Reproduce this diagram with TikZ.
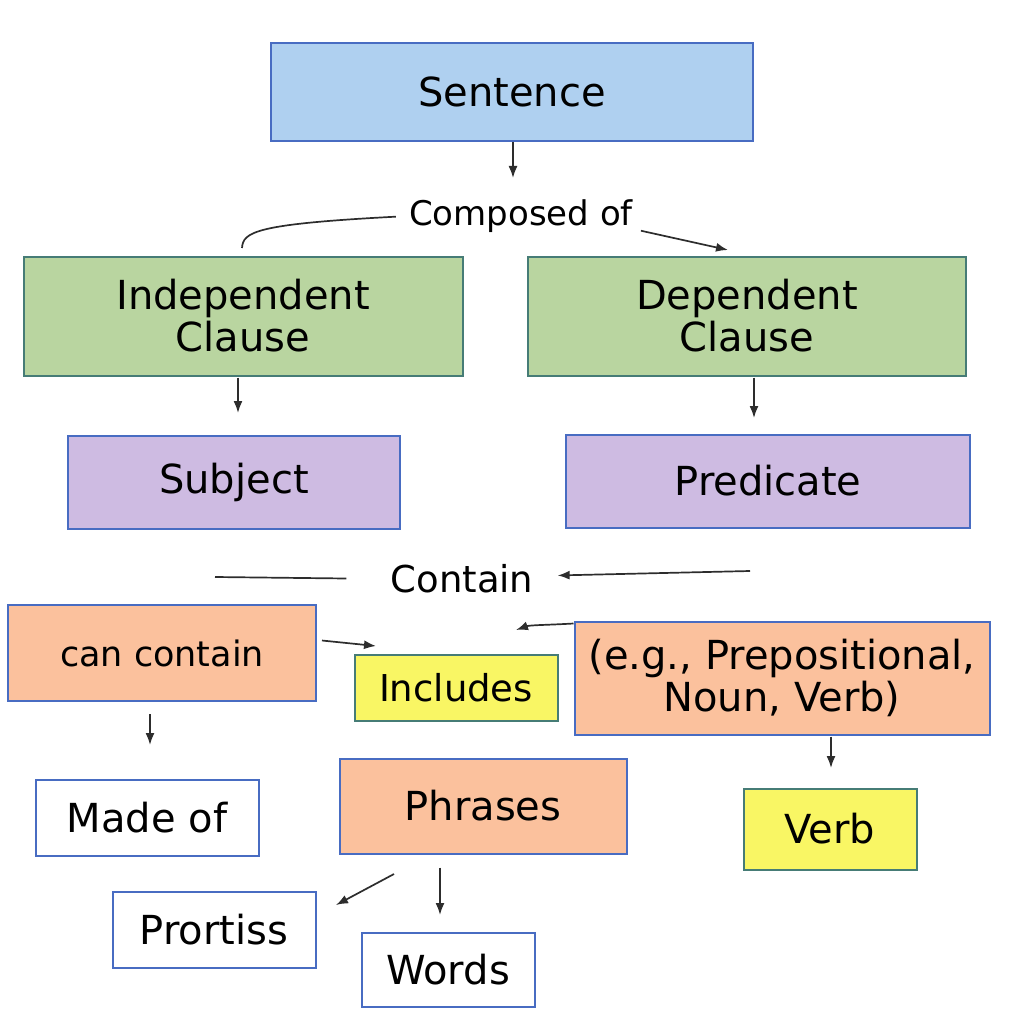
\documentclass[tikz,border=0pt]{standalone}
\usepackage{fontspec}
\setmainfont{DejaVu Sans}
\usepackage{tikz}
\usetikzlibrary{arrows.meta}

\definecolor{sentfill}{RGB}{175,208,240}
\definecolor{clausefill}{RGB}{185,213,160}
\definecolor{partfill}{RGB}{206,187,226}
\definecolor{phrasefill}{RGB}{251,193,157}
\definecolor{notefill}{RGB}{249,246,100}
\definecolor{blueline}{RGB}{72,108,194}
\definecolor{tealline}{RGB}{70,124,118}
\definecolor{arrgray}{RGB}{45,45,45}

\begin{document}
\begin{tikzpicture}[x=1pt, y=-1pt,
  box/.style={draw=blueline, line width=2pt, align=center, inner sep=0pt, font=\fontsize{40}{42}\selectfont},
  label/.style={inner sep=0pt, align=center},
  arr/.style={-{Latex[length=12pt,width=9pt]}, line width=1.7pt, draw=arrgray},
  line/.style={line width=1.7pt, draw=arrgray}
]
\useasboundingbox (0,0) rectangle (1010,1024);

% boxes
\node[box, fill=sentfill, minimum width=482, minimum height=98] (sentence) at (512,92) {Sentence};
\node[box, fill=clausefill, draw=tealline, minimum width=439, minimum height=119] (indep) at (243,316) {Independent\\Clause};
\node[box, fill=clausefill, draw=tealline, minimum width=438, minimum height=119] (dep) at (747,316) {Dependent\\Clause};
\node[box, fill=partfill, minimum width=332, minimum height=93] (subject) at (234,482) {Subject};
\node[box, fill=partfill, minimum width=404, minimum height=93] (predicate) at (768,481) {Predicate};
\node[box, fill=phrasefill, minimum width=308, minimum height=96, font=\fontsize{35}{40}\selectfont] (cancontain) at (162,653) {can contain};
\node[box, fill=notefill, draw=tealline, minimum width=203, minimum height=66, font=\fontsize{37}{40}\selectfont] (includes) at (456,688) {Includes};
\node[box, fill=phrasefill, minimum width=415, minimum height=113] (eg) at (782,678) {(e.g., Prepositional,\\Noun, Verb)};
\node[box, fill=white, minimum width=223, minimum height=76] (madeof) at (147,818) {Made of};
\node[box, fill=phrasefill, minimum width=287, minimum height=95] (phrases) at (483,806) {Phrases};
\node[box, fill=notefill, draw=tealline, minimum width=173, minimum height=81] (verb) at (830,829) {Verb};
\node[box, fill=white, minimum width=203, minimum height=76] (prortiss) at (214,930) {Prortiss};
\node[box, fill=white, minimum width=173, minimum height=74] (words) at (448,970) {Words};

% link words
\node[label, font=\fontsize{34}{40}\selectfont] (composed) at (521,216) {Composed of};
\node[label, font=\fontsize{37}{40}\selectfont] (contain) at (462,579) {Contain};

% loose ends
\coordinate (c_comp) at (513,178);
\coordinate (c_ind) at (242,248);
\coordinate (c_dep) at (728,250);
\coordinate (c_subj) at (238,413);
\coordinate (c_pred) at (754,418);
\coordinate (c_cl) at (215,577);
\coordinate (c_cr) at (750,571);
\coordinate (c_inc) at (376,646);
\coordinate (c_eg) at (516,630);
\coordinate (c_made) at (150,745);
\coordinate (c_verb) at (831,768);
\coordinate (c_ph) at (394,874);
\coordinate (c_port) at (336,905);
\coordinate (c_words) at (440,915);

% connectors
\draw[arr] (sentence.south -| c_comp) -- (c_comp);
\draw[line, shorten <=13pt] (composed.west) .. controls (255,224) and (243,232) .. (c_ind);
\draw[arr, shorten <=8pt] ([yshift=-13pt]composed.east) -- (c_dep);
\draw[arr, shorten <=1pt] (indep.south -| c_subj) -- (c_subj);
\draw[arr, shorten <=1pt] (dep.south -| c_pred) -- (c_pred);
\draw[line, shorten >=44pt] (c_cl) -- (contain.west);
\draw[arr, shorten >=24pt] (c_cr) -- ([yshift=3pt]contain.east);
\draw[arr, shorten <=5pt] ([yshift=13pt]cancontain.east) -- (c_inc);
\draw[arr] ([yshift=-3pt]eg.north west) .. controls (548,625) and (530,625) .. (c_eg);
\draw[arr, shorten <=12pt] (cancontain.south -| c_made) -- (c_made);
\draw[arr, shorten <=1pt] (eg.south -| c_verb) -- (c_verb);
\draw[arr] (c_ph) -- (c_port);
\draw[arr, shorten <=13pt] (phrases.south -| c_words) -- (c_words);
\end{tikzpicture}
\end{document}
